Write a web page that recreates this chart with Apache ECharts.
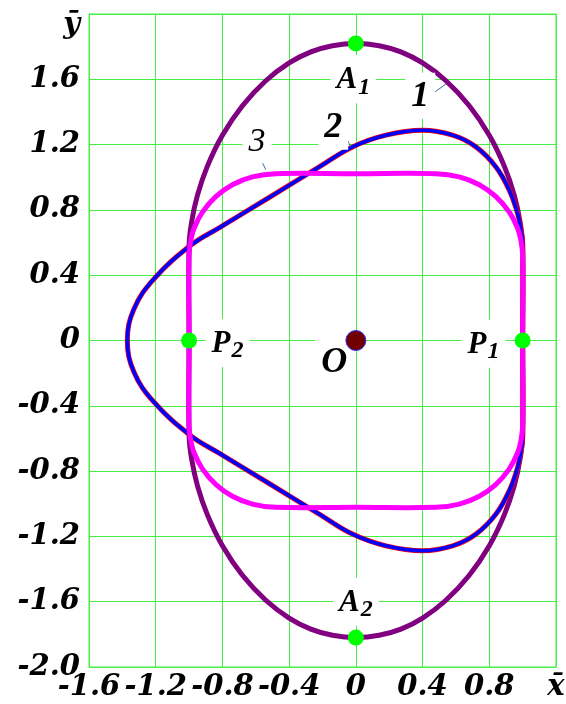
<!DOCTYPE html>
<html><head><meta charset="utf-8">
<script src="https://cdn.jsdelivr.net/npm/echarts@6/dist/echarts.min.js"></script>
<style>html,body{margin:0;padding:0;background:#fff}#c{width:566px;height:704px}</style>
</head><body><div id="c"></div>
<script>
// ---- data ----
const xTicks = [-1.6, -1.2, -0.8, -0.4, 0, 0.4, 0.8, 1.2];
const xTickLabels = ['-1.6', '-1.2', '-0.8', '-0.4', '0', '0.4', '0.8', 'x\u0304'];
const yTicks = [-2.0, -1.6, -1.2, -0.8, -0.4, 0, 0.4, 0.8, 1.2, 1.6, 2.0];
const yTickLabels = ['-2.0', '-1.6', '-1.2', '-0.8', '-0.4', '0', '0.4', '0.8', '1.2', '1.6', '\u0233'];

// curve 1 (purple), closed loop
const curve1 = [[1,0],[1,0.58],[0.985,0.724],[0.95,0.889],[0.89,1.068],[0.8,1.257],[0.68,1.438],[0.54,1.591],[0.4,1.70],[0.27,1.768],[0.14,1.806],[0,1.82],
  [-0.14,1.806],[-0.27,1.768],[-0.4,1.70],[-0.54,1.591],[-0.68,1.438],[-0.8,1.257],[-0.89,1.068],[-0.95,0.889],[-0.985,0.724],[-1,0.58],[-1,0],
  [-1,-0.58],[-0.985,-0.724],[-0.95,-0.889],[-0.89,-1.068],[-0.8,-1.257],[-0.68,-1.438],[-0.54,-1.591],[-0.4,-1.70],[-0.27,-1.768],[-0.14,-1.806],[0,-1.82],
  [0.14,-1.806],[0.27,-1.768],[0.4,-1.70],[0.54,-1.591],[0.68,-1.438],[0.8,-1.257],[0.89,-1.068],[0.95,-0.889],[0.985,-0.724],[1,-0.58]];
// curve 2 (blue over red), closed loop
const curve2 = [[1,0],[1,0.6],[0.99,0.675],[0.97,0.777],[0.92,0.92],[0.84,1.063],[0.72,1.186],[0.58,1.258],[0.4,1.288],[0.18,1.258],
  [-0.02,1.186],[-0.22,1.063],[-0.52,0.876],[-0.82,0.69],[-0.99,0.583],[-1.21,0.378],[-1.33,0.194],[-1.37,0],[-1.33,-0.194],[-1.21,-0.378],
  [-0.99,-0.583],[-0.82,-0.69],[-0.52,-0.876],[-0.22,-1.063],[-0.02,-1.186],[0.18,-1.258],[0.4,-1.288],[0.58,-1.258],[0.72,-1.186],
  [0.84,-1.063],[0.92,-0.92],[0.97,-0.777],[0.99,-0.675],[1,-0.6]];
// curve 3 (magenta), closed loop
const curve3 = [[1,0],[1,0.52],[0.99,0.613],[0.97,0.688],[0.92,0.786],[0.84,0.881],[0.74,0.954],[0.62,1.002],[0.48,1.022],[0,1.022],
  [-0.48,1.022],[-0.62,1.002],[-0.74,0.954],[-0.84,0.881],[-0.92,0.786],[-0.97,0.688],[-0.99,0.613],[-1,0.52],[-1,0],
  [-1,-0.52],[-0.99,-0.613],[-0.97,-0.688],[-0.92,-0.786],[-0.84,-0.881],[-0.74,-0.954],[-0.62,-1.002],[-0.48,-1.022],[0,-1.022],
  [0.48,-1.022],[0.62,-1.002],[0.74,-0.954],[0.84,-0.881],[0.92,-0.786],[0.97,-0.688],[0.99,-0.613],[1,-0.52]];

const pointNames = ['A1', 'A2', 'P1', 'P2'];
const greenPoints = [[0, 1.82], [0, -1.82], [1, 0], [-1, 0]];
const originPoint = [[0, 0]];

// annotation texts, anchors (data units) and leader lines
const annoTexts = ['{n|1}', '{n|2}', '{t|3}', '{m|A}{s|1}', '{m|A}{s|2}', '{m|P}{s|1}', '{m|P}{s|2}', '{o|O}'];
const annoAnchors = [[0.386, 1.50], [-0.136, 1.31], [-0.592, 1.221], [-0.015, 1.6], [0.0, -1.6], [0.765, -0.02], [-0.77, -0.015], [-0.13, -0.13]];
const leader1 = [[0.54, 1.571], [0.43, 1.49]];
const leader2 = [[-0.08, 1.288], [-0.03, 1.186]];
const leader3 = [[-0.58, 1.131], [-0.54, 1.047]];

// ---- chart ----
const GREEN = '#44ee44';
const tickFont = {fontFamily: 'DejaVu Serif', fontStyle: 'italic', fontWeight: 'bold', fontSize: 29, color: '#000'};
function lookup(ticks, labels, v) {
  for (let i = 0; i < ticks.length; i++) if (Math.abs(ticks[i] - v) < 1e-6) return labels[i];
  return '';
}
const serif = 'Liberation Serif';
const base = {fontFamily: serif, fontStyle: 'italic', fontWeight: 'bold', color: '#000', opacity: 1, textBorderWidth: 0, textShadowBlur: 0};
const rich = {
  n: Object.assign({}, base, {fontSize: 36}),
  t: Object.assign({}, base, {fontSize: 34, fontWeight: 'normal'}),
  m: Object.assign({}, base, {fontSize: 31}),
  s: Object.assign({}, base, {fontSize: 24, padding: [14, 0, 0, 1]}),
  o: Object.assign({}, base, {fontSize: 36})
};
const leaderStyle = {color: '#3a6a9a', width: 1};
function leaderSeries(d) {
  return {type: 'line', data: d, symbol: 'none', lineStyle: leaderStyle, z: 6, silent: true};
}
// closed smooth curve drawn through the data points, positioned by the cartesian axes
function loopSeries(data, color, width, z) {
  return {
    type: 'custom', coordinateSystem: 'cartesian2d', data: data, z: z, silent: true,
    encode: {x: 0, y: 1},
    renderItem: function (params, api) {
      if (params.dataIndex !== 0) return null;
      const pts = data.map(p => api.coord(p));
      return {type: 'polygon', shape: {points: pts, smooth: 0.4},
        style: {fill: 'none', stroke: color, lineWidth: width, lineJoin: 'round'}};
    }
  };
}
const chart = echarts.init(document.getElementById('c'), null, {renderer: 'canvas'});
chart.setOption({
  animation: false,
  backgroundColor: '#fff',
  grid: {left: 89, right: 10, top: 14, bottom: 37, show: true, borderColor: GREEN, borderWidth: 1, outerBoundsMode: 'none', containLabel: false},
  xAxis: {
    type: 'value', min: -1.6, max: 1.2, interval: 0.4,
    axisLine: {show: true, onZero: false, lineStyle: {color: GREEN}},
    axisTick: {show: false},
    splitLine: {show: true, lineStyle: {color: GREEN, width: 1}},
    axisLabel: Object.assign({margin: 6, showMinLabel: true, showMaxLabel: true, hideOverlap: false,
      formatter: v => lookup(xTicks, xTickLabels, v)}, tickFont)
  },
  yAxis: {
    type: 'value', min: -2.0, max: 2.0, interval: 0.4,
    axisLine: {show: true, onZero: false, lineStyle: {color: GREEN}},
    axisTick: {show: false},
    splitLine: {show: true, lineStyle: {color: GREEN, width: 1}},
    axisLabel: Object.assign({margin: 9, showMinLabel: true, showMaxLabel: true, hideOverlap: false,
      formatter: v => { const s = lookup(yTicks, yTickLabels, v); return Math.abs(v - 2) < 1e-6 ? '{yb|' + s + '}' : s; },
      rich: {yb: Object.assign({}, tickFont, {padding: [22, 0, 0, 0]})}}, tickFont)
  },
  series: [
    loopSeries(curve1, '#800080', 5, 2),
    loopSeries(curve2, '#ff0000', 5, 3),
    loopSeries(curve2, '#0000ff', 3.6, 4),
    loopSeries(curve3, '#ff00ff', 5, 5),
    leaderSeries(leader1), leaderSeries(leader2), leaderSeries(leader3),
    {type: 'scatter', data: greenPoints.map((p, i) => ({name: pointNames[i], value: p})), symbolSize: 16,
      itemStyle: {color: '#00ff00', opacity: 1}, z: 8},
    {type: 'scatter', data: originPoint, symbolSize: 20,
      itemStyle: {color: '#700000', borderColor: '#3030ff', borderWidth: 1, opacity: 1}, z: 8},
    {type: 'scatter', symbolSize: 0, z: 7, silent: true, itemStyle: {opacity: 1},
      data: annoAnchors.map((p, i) => ({value: p, label: {formatter: annoTexts[i]}})),
      label: {show: true, position: 'inside', color: '#000', opacity: 1, textBorderWidth: 0, backgroundColor: '#fff', padding: [6, 6, 4, 6], rich: rich}}
  ]
});
</script></body></html>
